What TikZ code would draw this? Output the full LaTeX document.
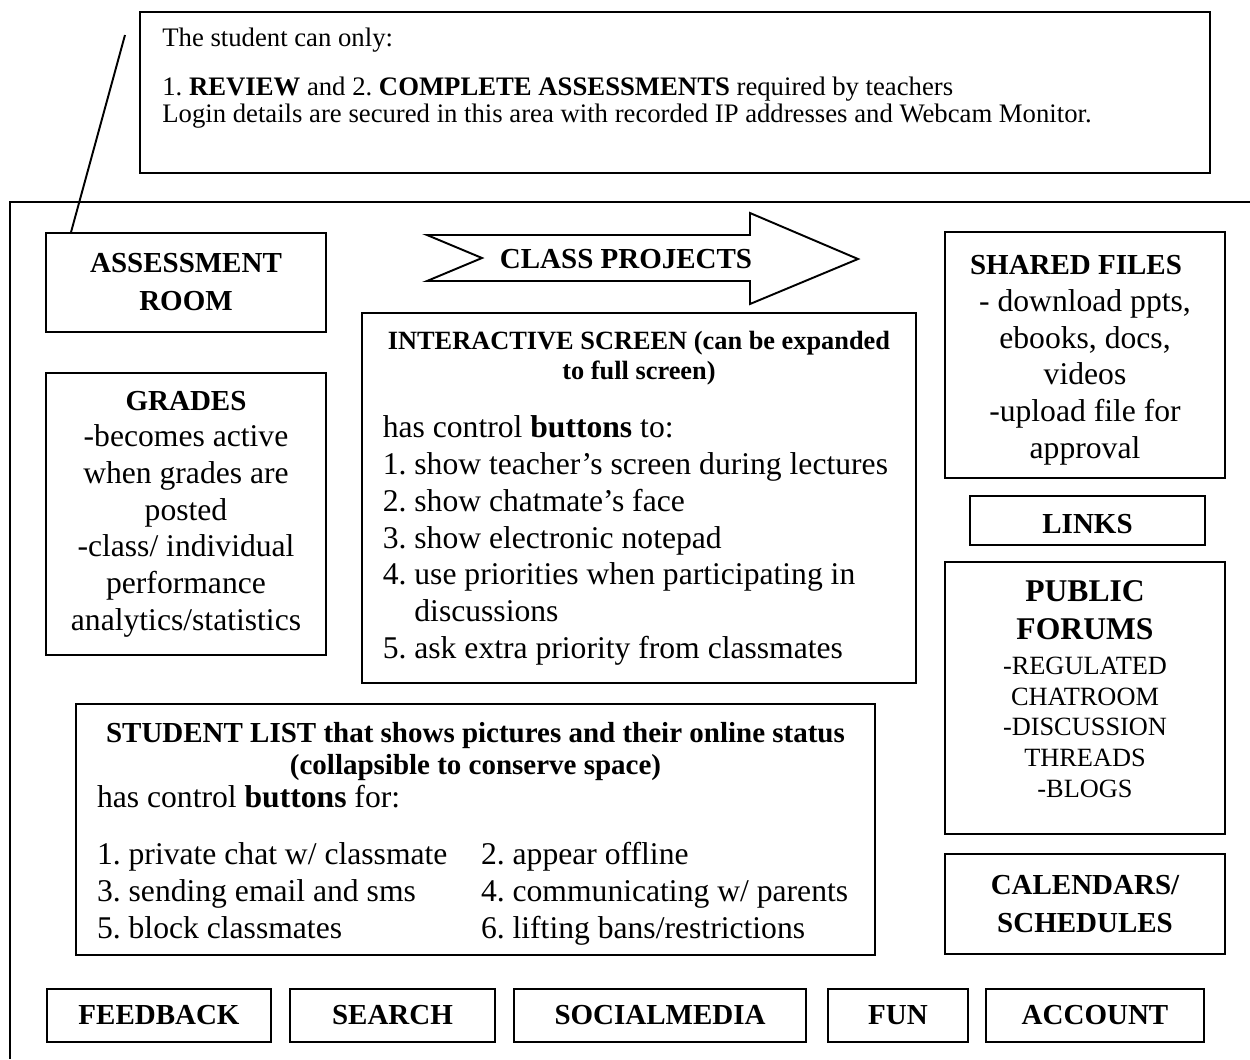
\documentclass[tikz,border=0pt]{standalone}
\usepackage{fontspec}
\setmainfont{Liberation Serif}
\frenchspacing
\begin{document}
\begin{tikzpicture}[x=0.02cm, y=-0.02cm,
    panel/.style={rectangle, draw, line width=1.1pt, inner sep=0pt},
    boxtitle/.style={font=\fontsize{16.5}{21.6}\selectfont\bfseries, align=center},
    boxbody/.style={font=\fontsize{18}{20.9}\selectfont}]
  \useasboundingbox (0,0) rectangle (1250,1059);
  % Frame
  \draw[line width=1.1pt] (1250,202) -- (10,202) -- (10,1059);
  % Note
  \node (note) [panel, minimum width=21.4cm, minimum height=3.22cm] at (675,92.5) {};
  \node (note-text) [anchor=north west, align=left, inner sep=0pt, font=\fontsize{15.2}{15.6}\selectfont] at (162,28)
    {The student can only:\\[0.42cm]
     1. \textbf{REVIEW} and 2. \textbf{COMPLETE ASSESSMENTS} required by teachers\\
     Login details are secured in this area with recorded IP addresses and Webcam Monitor.};
  % Left column
  \node (assess) [panel, boxtitle, minimum width=5.6cm, minimum height=1.98cm] at (186,282.5) {ASSESSMENT\\ ROOM};
  \node (grades) [panel, boxbody, minimum width=5.6cm, minimum height=5.64cm, text width=5.4cm, align=flush center] at (186,514)
    {{\bfseries\fontsize{16.5}{20.9}\selectfont GRADES\par}
     -becomes active\\ when grades are\\ posted\\ -class/ individual\\ performance\\ analytics/statistics};
  % Class projects
  \draw[line width=1.1pt] (427,235) -- (750,235) -- (750,213) -- (858,259) -- (750,304) -- (750,281) -- (427,281) -- (482,258) -- cycle;
  \node (projects) [boxtitle] at (626,259) {CLASS PROJECTS};
  % Interactive screen
  \node (screen) [panel, boxbody, minimum width=11.08cm, minimum height=7.4cm, text width=10.25cm, align=flush left] at (639,498)
    {{\bfseries\fontsize{15}{17}\selectfont\centering INTERACTIVE SCREEN (can be expanded\\ to full screen)\par}
     \vspace{12.6pt}
     has control \textbf{buttons} to:\par
     1. show teacher’s screen during lectures\par
     2. show chatmate’s face\par
     3. show electronic notepad\par
     \hangindent=1em\hangafter=1 4. use priorities when participating in discussions\par
     5. ask extra priority from classmates};
  % Student list
  \node (students) [panel, boxbody, minimum width=15.98cm, minimum height=5.02cm, text width=15.14cm, align=flush left] at (475.5,829.5)
    {{\bfseries\fontsize{16.5}{18.2}\selectfont\centering\rule{0pt}{18.8pt}STUDENT LIST that shows pictures and their online status\\ (collapsible to conserve space)\par}
     \vspace{-2.1pt}
     has control \textbf{buttons} for:\par
     \vspace{11.5pt}
     \begin{tabular}[t]{@{}p{7.68cm}@{}l@{}}
       1. private chat w/ classmate & 2. appear offline\\
       3. sending email and sms & 4. communicating w/ parents\\
       5. block classmates & 6. lifting bans/restrictions
     \end{tabular}};
  % Right column
  \node (shared) [panel, boxbody, minimum width=5.6cm, minimum height=4.92cm, text width=5.4cm, align=flush center] at (1085,355)
    {{\bfseries\fontsize{16.5}{20.9}\selectfont\rule{0pt}{16.9pt}SHARED FILES\hspace*{0.36cm}\par}
     - download ppts,\\ ebooks, docs,\\ videos\\ -upload file for\\ approval};
  \node (links) [panel, boxtitle, minimum width=4.7cm, minimum height=0.98cm] at (1087.5,520.5) {\rule{0pt}{15pt}LINKS};
  \node (forums) [panel, boxbody, minimum width=5.6cm, minimum height=5.44cm, text width=5.4cm, align=flush center] at (1085,698)
    {{\bfseries\fontsize{18}{21.6}\selectfont PUBLIC\\ FORUMS\par}
     \vspace{2.3pt}
     {\fontsize{15}{17.6}\selectfont -REGULATED\\ CHATROOM\\ -DISCUSSION\\ THREADS\\ -BLOGS\rule[-10.2pt]{0pt}{10.2pt}\par}};
  \node (calendars) [panel, boxtitle, minimum width=5.6cm, minimum height=2cm] at (1085,904) {CALENDARS/\\ SCHEDULES};
  % Buttons
  \node (feedback) [panel, boxtitle, minimum width=4.48cm, minimum height=1.06cm] at (159,1015.5) {FEEDBACK};
  \node (search) [panel, boxtitle, minimum width=4.1cm, minimum height=1.06cm] at (392.5,1015.5) {SEARCH};
  \node (social) [panel, boxtitle, minimum width=5.84cm, minimum height=1.06cm] at (660,1015.5) {SOCIALMEDIA};
  \node (fun) [panel, boxtitle, minimum width=2.8cm, minimum height=1.06cm] at (898,1015.5) {FUN};
  \node (account) [panel, boxtitle, minimum width=4.36cm, minimum height=1.06cm] at (1095,1015.5) {ACCOUNT};
  % Callout
  \coordinate (note-tip) at (125,35);
  \draw[line width=1.1pt] (note-tip) -- ([xshift=0.52cm]assess.north west);
\end{tikzpicture}
\end{document}
